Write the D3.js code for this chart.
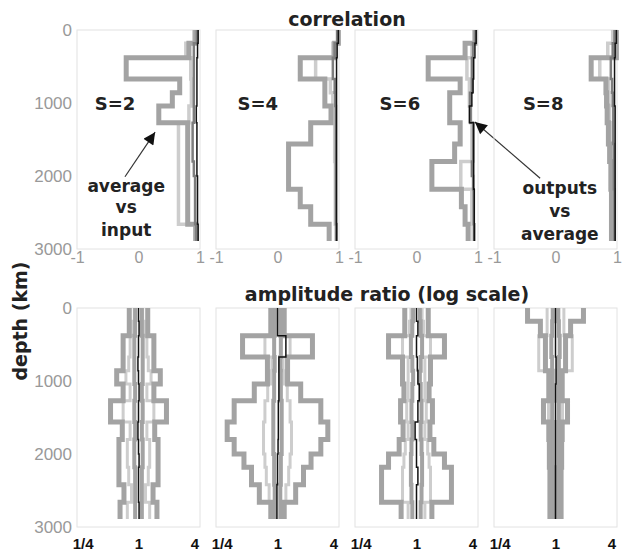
<!DOCTYPE html>
<html>
<head>
<meta charset="utf-8">
<script src="https://cdn.jsdelivr.net/npm/d3@7"></script>
<style>
  body { margin: 0; background: #fff; }
  #wrapper svg { display: block; }
</style>
</head>
<body>
<div id="wrapper"></div>
<script>
// layer boundaries in depth (km), shared by every profile
const depthBounds = [0, 180, 380, 670, 860, 1040, 1270, 1560, 1800, 2000, 2180, 2420, 2660, 2890]
const panelLabels = ["S=2", "S=4", "S=6", "S=8"]
const depthTicks = [0, 1000, 2000, 3000]
const corrTicks = [-1, 0, 1]
const corrTickLabels = ["-1", "0", "1"]
const ampTicks = [0.25, 1, 4]
const ampTickLabels = ["1/4", "1", "4"]

// correlation, average vs input (thick gray)
const corrAvgS2 = [0.93, 0.82, -0.2, 0.67, 0.55, 0.33, 0.8, 0.8, 0.8, 0.8, 0.8, 0.8, 0.93]
const corrAvgS4 = [0.99, 0.93, 0.37, 0.77, 0.77, 0.87, 0.54, 0.18, 0.18, 0.18, 0.37, 0.54, 0.84]
const corrAvgS6 = [0.95, 0.79, 0.19, 0.71, 0.54, 0.54, 0.71, 0.62, 0.25, 0.25, 0.73, 0.79, 0.84]
const corrAvgS8 = [0.99, 0.99, 0.58, 0.82, 0.83, 0.84, 0.86, 0.88, 0.9, 0.9, 0.91, 0.91, 0.91]

// correlation, outputs vs average (light, mid, dark)
const corrOutLightS2 = [0.9, 0.77, 0.85, 0.86, 0.86, 0.82, 0.65, 0.65, 0.65, 0.65, 0.65, 0.65, 0.93]
const corrOutLightS4 = [0.98, 0.9, 0.62, 0.86, 0.9, 0.93, 0.93, 0.93, 0.94, 0.94, 0.94, 0.94, 0.95]
const corrOutLightS6 = [0.95, 0.9, 0.82, 0.86, 0.86, 0.88, 0.9, 0.9, 0.72, 0.72, 0.9, 0.9, 0.92]
const corrOutLightS8 = [0.93, 0.85, 0.72, 0.86, 0.87, 0.88, 0.9, 0.92, 0.93, 0.93, 0.94, 0.94, 0.94]

const corrOutMidS2 = [0.95, 0.9, 0.9, 0.9, 0.9, 0.9, 0.88, 0.88, 0.9, 0.92, 0.92, 0.92, 0.94]
const corrOutMidS4 = [0.97, 0.93, 0.9, 0.93, 0.94, 0.95, 0.95, 0.95, 0.95, 0.95, 0.95, 0.95, 0.96]
const corrOutMidS6 = [0.96, 0.92, 0.9, 0.9, 0.87, 0.88, 0.92, 0.92, 0.9, 0.92, 0.93, 0.93, 0.94]
const corrOutMidS8 = [0.96, 0.93, 0.9, 0.92, 0.93, 0.94, 0.94, 0.95, 0.95, 0.95, 0.96, 0.96, 0.96]

const corrOutDarkS2 = [0.97, 0.96, 0.95, 0.95, 0.95, 0.94, 0.95, 0.95, 0.95, 0.96, 0.96, 0.96, 0.97]
const corrOutDarkS4 = [0.99, 0.97, 0.96, 0.96, 0.96, 0.96, 0.96, 0.96, 0.96, 0.96, 0.96, 0.96, 0.96]
const corrOutDarkS6 = [0.97, 0.95, 0.93, 0.92, 0.9, 0.86, 0.93, 0.93, 0.93, 0.93, 0.94, 0.94, 0.94]
const corrOutDarkS8 = [0.99, 0.97, 0.96, 0.96, 0.96, 0.97, 0.97, 0.97, 0.97, 0.97, 0.97, 0.97, 0.97]

// amplitude ratio, log2 half-widths of the envelopes (drawn at r and 1/r)
const ampOuterS2 = [0.33, 0.33, 0.55, 0.55, 0.78, 0.55, 1.0, 0.58, 0.7, 0.7, 0.7, 0.52, 0.66]
const ampOuterS4 = [0.24, 0.24, 1.25, 0.36, 0.36, 0.83, 1.55, 1.8, 1.55, 1.2, 0.93, 0.65, 0.24]
const ampOuterS6 = [0.42, 0.42, 1.0, 0.5, 0.5, 0.45, 0.57, 0.48, 0.62, 1.0, 1.25, 1.25, 0.55]
const ampOuterS8 = [1.0, 0.54, 0.36, 0.36, 0.24, 0.24, 0.43, 0.24, 0.22, 0.22, 0.2, 0.2, 0.2]

const ampInnerS2 = [0.15, 0.2, 0.3, 0.35, 0.45, 0.3, 0.55, 0.3, 0.4, 0.4, 0.35, 0.25, 0.4]
const ampInnerS4 = [0.1, 0.12, 0.45, 0.2, 0.25, 0.35, 0.45, 0.5, 0.5, 0.45, 0.4, 0.3, 0.12]
const ampInnerS6 = [0.2, 0.25, 0.5, 0.3, 0.3, 0.3, 0.35, 0.3, 0.4, 0.45, 0.5, 0.5, 0.3]
const ampInnerS8 = [0.3, 0.3, 0.6, 0.6, 0.15, 0.15, 0.25, 0.15, 0.12, 0.12, 0.12, 0.12, 0.1]

const ampMidS2 = [0.12, 0.12, 0.15, 0.15, 0.15, 0.12, 0.15, 0.12, 0.15, 0.15, 0.12, 0.12, 0.12]
const ampMidS4 = [0.1, 0.1, 0.12, 0.1, 0.12, 0.12, 0.15, 0.15, 0.15, 0.12, 0.12, 0.1, 0.1]
const ampMidS6 = [0.12, 0.15, 0.2, 0.15, 0.12, 0.15, 0.18, 0.15, 0.18, 0.2, 0.2, 0.18, 0.15]
const ampMidS8 = [0.1, 0.12, 0.15, 0.12, 0.1, 0.1, 0.12, 0.1, 0.1, 0.1, 0.08, 0.08, 0.08]

const ampDarkS2 = [0.0, 0.02, 0.0, -0.02, 0.0, 0.02, 0.0, -0.02, 0.0, 0.02, 0.0, 0.0, 0.02]
const ampDarkS4 = [0.0, 0.0, 0.3, 0.05, 0.05, 0.05, 0.03, 0.03, 0.02, 0.0, 0.0, -0.02, -0.02]
const ampDarkS6 = [0.0, 0.05, 0.0, 0.03, 0.05, 0.1, 0.05, -0.05, 0.0, 0.0, 0.05, 0.0, 0.0]
const ampDarkS8 = [0.0, 0.0, 0.0, 0.02, 0.02, 0.0, 0.0, 0.0, 0.0, 0.0, 0.0, 0.0, 0.0]

// annotations, in each panel's own [correlation, depth] units
const labelPos = [[-0.38, 1096], [-0.32, 1096], [-0.27, 1096], [-0.2, 1096]]
const avgNote = ["average", "vs", "input"]
const avgNoteDepths = [2220, 2505, 2820]
const avgArrow = [[-0.22, 2010], [0.27, 1400]]
const outNote = ["outputs", "vs", "average"]
const outNoteDepths = [2245, 2560, 2875]
const outArrow = [[2.01, 2030], [0.95, 1260]]

function drawChart() {

  // 1. Group data per panel
  const corrAvg = [corrAvgS2, corrAvgS4, corrAvgS6, corrAvgS8]
  const corrLight = [corrOutLightS2, corrOutLightS4, corrOutLightS6, corrOutLightS8]
  const corrMid = [corrOutMidS2, corrOutMidS4, corrOutMidS6, corrOutMidS8]
  const corrDark = [corrOutDarkS2, corrOutDarkS4, corrOutDarkS6, corrOutDarkS8]
  const ampOuter = [ampOuterS2, ampOuterS4, ampOuterS6, ampOuterS8]
  const ampInner = [ampInnerS2, ampInnerS4, ampInnerS6, ampInnerS8]
  const ampMid = [ampMidS2, ampMidS4, ampMidS6, ampMidS8]
  const ampDark = [ampDarkS2, ampDarkS4, ampDarkS6, ampDarkS8]

  // 2. Dimensions
  let dimensions = {
    width: 629,
    height: 553,
    panelWidth: 123,
    panelHeight: 219,
    gap: 16,
    left: 77,
    topRow: 30,
    bottomRow: 308,
  }
  const panelX = i => dimensions.left + i * (dimensions.panelWidth + dimensions.gap)

  // 3. Canvas
  const wrapper = d3.select("#wrapper")
    .append("svg")
      .attr("width", dimensions.width)
      .attr("height", dimensions.height)
  wrapper.append("rect")
      .attr("width", dimensions.width)
      .attr("height", dimensions.height)
      .attr("fill", "white")

  const defs = wrapper.append("defs")
  defs.append("marker")
      .attr("id", "head")
      .attr("viewBox", "0 0 10 10")
      .attr("refX", 10)
      .attr("refY", 5)
      .attr("markerWidth", 15)
      .attr("markerHeight", 12)
      .attr("markerUnits", "userSpaceOnUse")
      .attr("orient", "auto")
    .append("path")
      .attr("d", "M0,0 L10,5 L0,10 Z")
      .attr("fill", "#111")

  // 4. Scales
  const xCorr = d3.scaleLinear().domain([-1, 1]).range([0, dimensions.panelWidth])
  const xAmp = d3.scaleLog().base(2).domain([2 ** -2.2, 2 ** 2.2]).range([0, dimensions.panelWidth])
  const yScale = d3.scaleLinear().domain([0, 3000]).range([0, dimensions.panelHeight])

  const steps = (values, f) => values.flatMap((v, i) => [[f(v), depthBounds[i]], [f(v), depthBounds[i + 1]]])
  const corrLine = d3.line().x(d => xCorr(d[0])).y(d => yScale(d[1]))
  const ampLine = d3.line().x(d => xAmp(d[0])).y(d => yScale(d[1]))

  const drawPath = (g, line, pts, color, w) => g.append("path")
      .attr("d", line(pts))
      .attr("fill", "none")
      .attr("stroke", color)
      .attr("stroke-width", w)
      .attr("stroke-linejoin", "miter")

  const boldFont = "'DejaVu Sans', sans-serif"
  const plainFont = "'Liberation Sans', Arial, sans-serif"

  const depthAxis = g => {
    const yAxis = g.append("g")
        .call(d3.axisLeft(yScale).tickValues(depthTicks).tickSize(0).tickPadding(5)
          .tickFormat(d3.format("d")))
    yAxis.select(".domain").remove()
    yAxis.selectAll("text")
        .style("font-family", plainFont)
        .style("font-size", "17px")
        .attr("fill", "#999")
  }

  // 5. Correlation row
  panelLabels.forEach((label, i) => {
    const g = wrapper.append("g")
        .attr("transform", `translate(${panelX(i)}, ${dimensions.topRow})`)

    g.append("rect")
        .attr("width", dimensions.panelWidth)
        .attr("height", dimensions.panelHeight)
        .attr("fill", "none")
        .attr("stroke", "#e2e2e2")

    drawPath(g, corrLine, steps(corrLight[i], v => v), "#cdcdcd", 3.5)
    drawPath(g, corrLine, steps(corrAvg[i], v => v), "#a3a3a3", 5)
    drawPath(g, corrLine, steps(corrMid[i], v => v), "#7d7d7d", 2.5)
    drawPath(g, corrLine, steps(corrDark[i], v => v), "#111", 1.5)

    g.append("text")
        .attr("x", xCorr(labelPos[i][0]))
        .attr("y", yScale(labelPos[i][1]))
        .attr("text-anchor", "middle")
        .style("font-family", boldFont)
        .style("font-weight", "bold")
        .style("font-size", "18px")
        .attr("fill", "#222")
        .text(label)

    const xAxis = g.append("g")
        .attr("transform", `translate(0, ${dimensions.panelHeight})`)
        .call(d3.axisBottom(xCorr).tickValues(corrTicks).tickSize(0).tickPadding(3)
          .tickFormat((d, k) => corrTickLabels[k]))
    xAxis.select(".domain").remove()
    xAxis.selectAll("text")
        .style("font-family", plainFont)
        .style("font-size", "16px")
        .attr("fill", "#999")

    if (i === 0) {
      depthAxis(g)

      g.append("line")
          .attr("x1", xCorr(avgArrow[0][0]))
          .attr("y1", yScale(avgArrow[0][1]))
          .attr("x2", xCorr(avgArrow[1][0]))
          .attr("y2", yScale(avgArrow[1][1]))
          .attr("stroke", "#333")
          .attr("stroke-width", 1.2)
          .attr("marker-end", "url(#head)")

      g.selectAll(".avg-note")
        .data(avgNote)
        .enter().append("text")
          .attr("x", xCorr(-0.2))
          .attr("y", (d, k) => yScale(avgNoteDepths[k]))
          .attr("text-anchor", "middle")
          .style("font-family", boldFont)
          .style("font-weight", "bold")
          .style("font-size", "17px")
          .attr("fill", "#222")
          .text(d => d)
    }

    if (i === 2) {
      g.append("line")
          .attr("x1", xCorr(outArrow[0][0]))
          .attr("y1", yScale(outArrow[0][1]))
          .attr("x2", xCorr(outArrow[1][0]))
          .attr("y2", yScale(outArrow[1][1]))
          .attr("stroke", "#333")
          .attr("stroke-width", 1.2)
          .attr("marker-end", "url(#head)")
    }

    if (i === 3) {
      g.selectAll(".out-note")
        .data(outNote)
        .enter().append("text")
          .attr("x", xCorr(0.07))
          .attr("y", (d, k) => yScale(outNoteDepths[k]))
          .attr("text-anchor", "middle")
          .style("font-family", boldFont)
          .style("font-weight", "bold")
          .style("font-size", "17px")
          .attr("fill", "#222")
          .text(d => d)
    }
  })

  // 6. Amplitude row
  panelLabels.forEach((label, i) => {
    const g = wrapper.append("g")
        .attr("transform", `translate(${panelX(i)}, ${dimensions.bottomRow})`)

    g.append("rect")
        .attr("width", dimensions.panelWidth)
        .attr("height", dimensions.panelHeight)
        .attr("fill", "none")
        .attr("stroke", "#e2e2e2")

    const up = v => 2 ** v
    const down = v => 2 ** -v
    drawPath(g, ampLine, steps(ampInner[i], up), "#cdcdcd", 3)
    drawPath(g, ampLine, steps(ampInner[i], down), "#cdcdcd", 3)
    drawPath(g, ampLine, steps(ampMid[i], up), "#a3a3a3", 4)
    drawPath(g, ampLine, steps(ampMid[i], down), "#a3a3a3", 4)
    drawPath(g, ampLine, steps(ampOuter[i], up), "#a3a3a3", 5)
    drawPath(g, ampLine, steps(ampOuter[i], down), "#a3a3a3", 5)
    drawPath(g, ampLine, steps(ampDark[i], up), "#111", 1.5)

    const xAxis = g.append("g")
        .attr("transform", `translate(0, ${dimensions.panelHeight})`)
        .call(d3.axisBottom(xAmp).tickValues(ampTicks).tickSize(0).tickPadding(11)
          .tickFormat((d, k) => ampTickLabels[k]))
    xAxis.select(".domain").remove()
    xAxis.selectAll("text")
        .style("font-family", plainFont)
        .style("font-weight", "bold")
        .style("font-size", "15px")
        .attr("fill", "#111")

    if (i === 0) depthAxis(g)
  })

  // 7. Titles
  wrapper.append("text")
      .attr("x", 347)
      .attr("y", 26)
      .attr("text-anchor", "middle")
      .style("font-family", boldFont)
      .style("font-weight", "bold")
      .style("font-size", "19px")
      .attr("fill", "#222")
      .text("correlation")

  wrapper.append("text")
      .attr("x", 387)
      .attr("y", 301)
      .attr("text-anchor", "middle")
      .style("font-family", boldFont)
      .style("font-weight", "bold")
      .style("font-size", "19px")
      .attr("fill", "#222")
      .text("amplitude ratio (log scale)")

  wrapper.append("text")
      .attr("transform", "translate(27, 321) rotate(-90)")
      .attr("text-anchor", "middle")
      .style("font-family", boldFont)
      .style("font-weight", "bold")
      .style("font-size", "19px")
      .attr("fill", "#222")
      .text("depth (km)")
}
drawChart()
</script>
</body>
</html>
